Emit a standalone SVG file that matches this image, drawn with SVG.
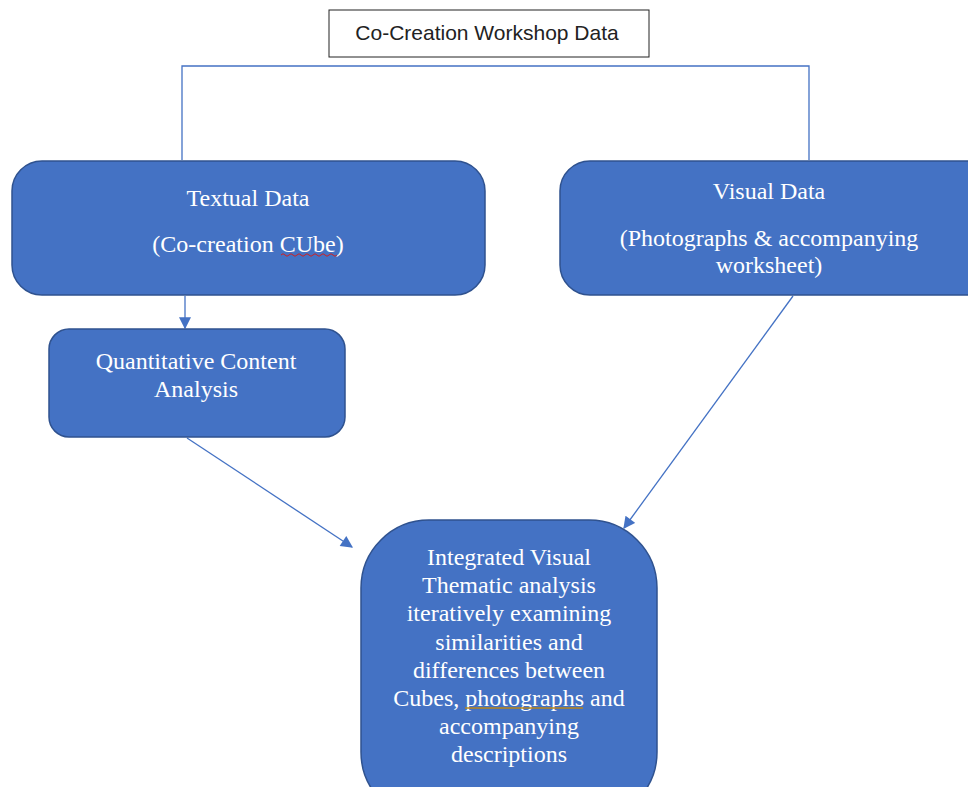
<svg xmlns="http://www.w3.org/2000/svg" width="968" height="787" viewBox="0 0 968 787">
<style>
.box{fill:#4472C4;stroke:#2F528F;stroke-width:1.5}
.t{font-family:"Liberation Serif","Times New Roman",serif;font-size:24px;fill:#ffffff;text-anchor:middle}
.c{fill:none;stroke:#4472C4;stroke-width:1.3}
</style>
<defs>
<marker id="ah" viewBox="0 0 10 10" refX="9" refY="5" markerWidth="13" markerHeight="12" markerUnits="userSpaceOnUse" orient="auto">
<path d="M0,0 L10,5 L0,10 Z" fill="#4472C4"/>
</marker>
</defs>
<rect width="968" height="787" fill="#ffffff"/>
<g id="connectors">
<path class="c" d="M182,160 V66 H809 V160"/>
<line class="c" x1="185" y1="296" x2="185" y2="328" marker-end="url(#ah)"/>
<line class="c" x1="187" y1="438" x2="352" y2="547" marker-end="url(#ah)"/>
<line class="c" x1="793" y1="296" x2="624" y2="528" marker-end="url(#ah)"/>
</g>
<g id="title">
<rect x="329" y="10" width="320" height="47" fill="#ffffff" stroke="#222222" stroke-width="1"/>
<text x="487" y="40" font-family="Liberation Sans, Arial, sans-serif" font-size="21" fill="#222222" text-anchor="middle">Co-Creation Workshop Data</text>
</g>
<g id="textual">
<rect class="box" x="12" y="161" width="473" height="134" rx="30"/>
<text class="t" x="248" y="206">Textual Data</text>
<text class="t" x="248" y="252">(Co-creation CUbe)</text>
<path d="M281,255 q2,-2.5 4,0 t4,0 t4,0 t4,0 t4,0 t4,0 t4,0 t4,0 t4,0 t4,0 t4,0 t4,0 t4,0 t4,0" fill="none" stroke="#d02020" stroke-width="1"/>
</g>
<g id="visual">
<rect class="box" x="560" y="161" width="440" height="134" rx="30"/>
<text class="t" x="769" y="199">Visual Data</text>
<text class="t" x="769" y="246">(Photographs &amp; accompanying</text>
<text class="t" x="769" y="273">worksheet)</text>
</g>
<g id="quant">
<rect class="box" x="49" y="329" width="296" height="108" rx="20"/>
<text class="t" x="196" y="369">Quantitative Content</text>
<text class="t" x="196" y="397">Analysis</text>
</g>
<g id="integrated">
<rect class="box" x="361" y="520" width="296" height="300" rx="68"/>
<text class="t" x="509" y="565">Integrated Visual</text>
<text class="t" x="509" y="593">Thematic analysis</text>
<text class="t" x="509" y="621">iteratively examining</text>
<text class="t" x="509" y="650">similarities and</text>
<text class="t" x="509" y="678">differences between</text>
<text class="t" x="509" y="706">Cubes, photographs and</text>
<text class="t" x="509" y="734">accompanying</text>
<text class="t" x="509" y="762">descriptions</text>
<line x1="465" y1="708" x2="583" y2="708" stroke="#b8861b" stroke-width="1.5"/>
</g>
</svg>
